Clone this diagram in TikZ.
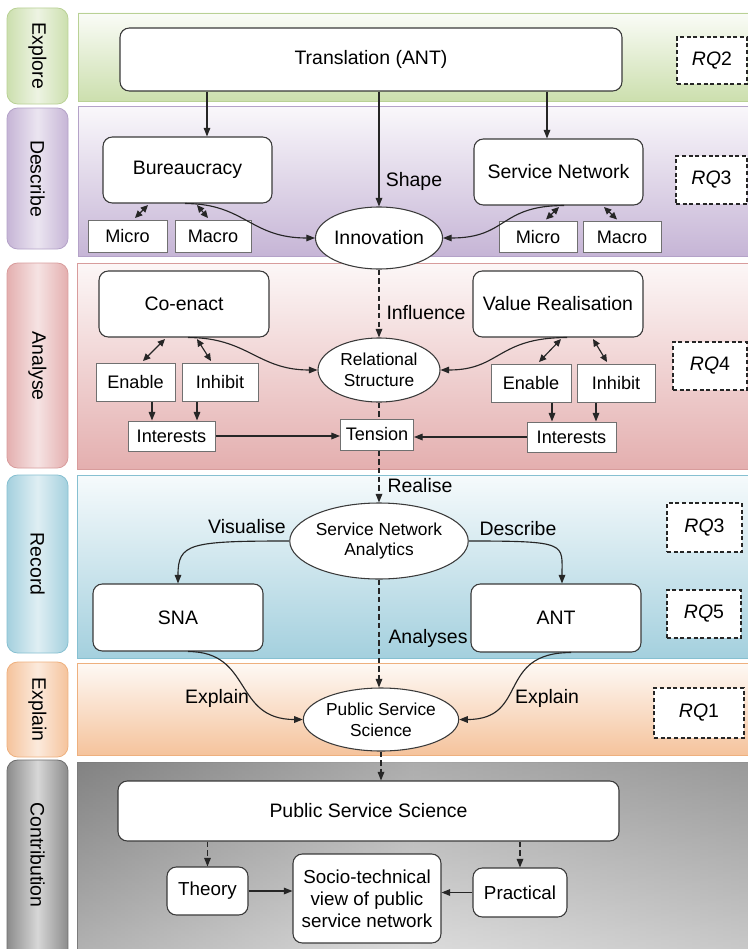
\documentclass[tikz,border=0pt]{standalone}
\usepackage{fontspec}
\setmainfont{Liberation Sans}
\usetikzlibrary{arrows.meta,shapes.geometric,calc}

\definecolor{boxline}{HTML}{3A3A3A}
\definecolor{sboxline}{HTML}{707070}
\definecolor{linec}{HTML}{262626}
\definecolor{exG}{HTML}{CCDFAE}
\definecolor{exGd}{HTML}{B9D195}
\definecolor{deP}{HTML}{C6B5D6}
\definecolor{dePd}{HTML}{B4A2C8}
\definecolor{anR}{HTML}{E4AFAF}
\definecolor{anRd}{HTML}{D89C9C}
\definecolor{reB}{HTML}{A4D0DE}
\definecolor{reBd}{HTML}{86C0D1}
\definecolor{exO}{HTML}{F5C39C}
\definecolor{exOd}{HTML}{EEB07E}
\definecolor{coG}{HTML}{8C8C8C}
\definecolor{coGd}{HTML}{6E6E6E}

\newcommand\fMain{\fontsize{14.6}{17.5}\selectfont}
\newcommand\fSmall{\fontsize{13.6}{16}\selectfont}
\newcommand\fEll{\fontsize{13}{15.6}\selectfont}
\newcommand\fSocio{\fontsize{14.1}{16.5}\selectfont}

\begin{document}
\begin{tikzpicture}[x=0.75pt,y=-0.75pt,
  sz/.style 2 args={minimum width=#1*0.75pt, minimum height=#2*0.75pt},
  rbox/.style={draw=boxline, fill=white, rounded corners=7pt, line width=0.8pt, inner sep=0pt, align=center, font=\fMain},
  sbox/.style={draw=sboxline, fill=white, line width=0.75pt, inner sep=0pt, font=\fSmall},
  ell/.style={ellipse, draw=boxline, fill=white, line width=0.8pt, inner sep=0pt, align=center, font=\fEll},
  rqbox/.style={draw=black!85, dash pattern=on 3pt off 2pt, fill=white, line width=0.8pt, inner sep=0pt, font=\fMain},
  lbl/.style={inner sep=1pt, font=\fMain},
  lanelbl/.style={rotate=-90, font=\fMain},
  conn/.style={draw=linec, line width=0.85pt},
  arr/.style={conn, -{Triangle[length=6.5pt,width=5pt]}},
  darr/.style={conn, {Triangle[length=5.5pt,width=5pt]}-{Triangle[length=5.5pt,width=5pt]}},
  dasharr/.style={arr, dash pattern=on 4pt off 2.5pt},
  dline/.style={conn, dash pattern=on 4pt off 2.5pt},
  lanebg/.style 2 args={top color=#1!10!white, bottom color=#1, draw=#2, line width=0.6pt},
  tabbg/.style 2 args={left color=#1, right color=#1, middle color=#1!35!white, draw=#2, line width=0.6pt, rounded corners=8pt},
]
\useasboundingbox (0,0) rectangle (748,949);
\fill[white] (0,0) rectangle (748,949);

% ---- swim lanes ----
\shade[lanebg={exG}{exGd}] (78,13) rectangle (748,101);
\shade[tabbg={exG}{exGd}] (7,8) rectangle (68,104);
\shade[lanebg={deP}{dePd}] (78,106) rectangle (748,256);
\shade[tabbg={deP}{dePd}] (7,108) rectangle (68,249);
\shade[lanebg={anR}{anRd}] (77,263) rectangle (748,469);
\shade[tabbg={anR}{anRd}] (7,263) rectangle (68,468);
\shade[lanebg={reB}{reBd}] (77,475) rectangle (748,658);
\shade[tabbg={reB}{reBd}] (7,475) rectangle (68,653);
\shade[lanebg={exO}{exOd}] (77,663) rectangle (748,755);
\shade[tabbg={exO}{exOd}] (7,662) rectangle (68,757);
\shade[top color=black!52, bottom color=black!18, draw=coGd, line width=0.6pt] (77,762) rectangle (750,952);
\shade[left color=black!45, right color=black!25, middle color=black!8, opacity=0.45] (77,762) rectangle (748,949);
\shade[tabbg={coG}{coGd}] (7,760) rectangle (68,960);

\node[lanelbl] (tExplore) at (37.5,56) {Explore};
\node[lanelbl] (tDescribe) at (37.5,178.5) {Describe};
\node[lanelbl] (tAnalyse) at (37.5,366) {Analyse};
\node[lanelbl] (tRecord) at (37.5,564) {Record};
\node[lanelbl] (tExplain) at (37.5,709.5) {Explain};
\node[lanelbl] (tContrib) at (37.5,855) {Contribution};

% ---- Explore ----
\node[rbox, sz={502}{63}] (trans) at (371,59.5) {Translation (ANT)};
\node[rqbox, sz={70}{47}] (rq2) at (712,60.5) {\textit{RQ}2};

% ---- Describe ----
\node[rbox, sz={169}{66}] (bur) at (187.5,170) {Bureaucracy};
\node[rbox, sz={169}{66}] (sn) at (558.5,172) {Service Network};
\node[rqbox, sz={71}{48}] (rq3a) at (711.5,180) {\textit{RQ}3};
\node[sbox, sz={79}{32}] (micL) at (127.5,236) {Micro};
\node[sbox, sz={76}{32}] (macL) at (213,236) {Macro};
\node[sbox, sz={78}{31}] (micR) at (538,237) {Micro};
\node[sbox, sz={78}{31}] (macR) at (622,237) {Macro};
\node[ell, sz={122}{62}, font=\fMain] (inno) at (379,238) {Innovation};
\node[lbl] (lShape) at (414,181) {Shape};

% ---- Analyse ----
\node[rbox, sz={170}{66}] (coen) at (184,304) {Co-enact};
\node[rbox, sz={170}{66}] (vr) at (558,304) {Value Realisation};
\node[rqbox, sz={74}{48}] (rq4) at (710,366) {\textit{RQ}4};
\node[sbox, sz={79}{38}] (enL) at (135.5,382) {Enable};
\node[sbox, sz={76}{38}] (inL) at (220,382) {Inhibit};
\node[sbox, sz={87}{30}] (intL) at (171.5,436) {Interests};
\node[sbox, sz={80}{38}] (enR) at (531,383) {Enable};
\node[sbox, sz={78}{38}] (inR) at (616,383) {Inhibit};
\node[sbox, sz={89}{30}] (intR) at (571.5,437) {Interests};
\node[ell, sz={122}{64}] (rel) at (379,370) {Relational\\Structure};
\node[sbox, sz={73}{31}] (ten) at (377,434.5) {Tension};
\node[lbl] (lInfl) at (426,313) {Influence};

% ---- Record ----
\node[ell, sz={147}{76}] (sna) at (379,541) {Service Network\\Analytics};
\node[lbl] (lReal) at (420,486) {Realise};
\node[lbl] (lVis) at (247,527) {Visualise};
\node[lbl] (lDesc) at (518,529) {Describe};
\node[rqbox, sz={75}{49}] (rq3b) at (704.5,527.5) {\textit{RQ}3};
\node[rbox, sz={170}{67}] (snab) at (178,617.5) {SNA};
\node[rbox, sz={170}{68}] (antb) at (556,618) {ANT};
\node[rqbox, sz={74}{48}] (rq5) at (704,614) {\textit{RQ}5};
\node[lbl] (lAna) at (428,638) {Analyses};

% ---- Explain ----
\node[ell, sz={129}{63}] (psse) at (381,719.5) {Public Service\\Science};
\node[lbl] (lExL) at (217,698) {Explain};
\node[lbl] (lExR) at (547,698) {Explain};
\node[rqbox, sz={90}{50}] (rq1) at (699,713) {\textit{RQ}1};

% ---- Contribution ----
\node[rbox, sz={501}{60}] (pssb) at (368.5,811) {Public Service Science};
\node[rbox, sz={81}{48}, font=\fSocio] (theory) at (207.5,891) {Theory};
\node[rbox, sz={148}{89}, font=\fSocio] (socio) at (367,898.5) {Socio-technical\\view of public\\service network};
\node[rbox, sz={94}{49}, font=\fSocio] (prac) at (520,892.5) {Practical};

% ---- connectors: Explore to Describe ----
\coordinate (c1) at ($(bur.north)+(19.5,0)$);
\draw[arr] (trans.south -| c1) -- (c1);
\coordinate (c2) at ($(sn.north)+(-11.5,0)$);
\draw[arr] (trans.south -| c2) -- (c2);
\draw[arr] (trans.south -| inno.north) -- (inno.north);

% ---- Describe ----
\draw[darr] ($(bur.south)+(-39.5,1.5)$) -- ($(micL.north)+(7.5,-1.5)$);
\draw[darr] ($(bur.south)+(9.5,1.5)$) -- ($(macL.north)+(-5,-1.5)$);
\draw[darr] ($(sn.south)+(0.5,1.5)$) -- ($(micR.north)+(8,-1.5)$);
\draw[darr] ($(sn.south)+(45.5,1.5)$) -- ($(macR.north)+(-5,-1.5)$);
\draw[arr] ($(bur.south)+(-2.5,0)$) .. controls +(60,0) and +(-65,0) .. (inno.west);
\draw[arr] ($(sn.south)+(5.5,0)$) .. controls +(-65,0) and +(65,0) .. (inno.east);

% ---- Analyse ----
\draw[dasharr] (inno.south) -- (rel.north);
\draw[darr] ($(coen.south)+(-19,1.5)$) -- ($(enL.north)+(7.5,-1.5)$);
\draw[darr] ($(coen.south)+(13,1.5)$) -- ($(inL.north)+(-9,-1.5)$);
\draw[darr] ($(vr.south)+(3,1.5)$) -- ($(enR.north)+(8,-1.5)$);
\draw[darr] ($(vr.south)+(35,1.5)$) -- ($(inR.north)+(-9,-1.5)$);
\coordinate (c3) at ($(intL.north)+(-19.5,0)$);
\draw[arr] (enL.south -| c3) -- (c3);
\coordinate (c4) at ($(intL.north)+(25.5,0)$);
\draw[arr] (inL.south -| c4) -- (c4);
\coordinate (c5) at ($(intR.north)+(-19.5,0)$);
\draw[arr] (enR.south -| c5) -- (c5);
\coordinate (c6) at ($(intR.north)+(24.5,0)$);
\draw[arr] (inR.south -| c6) -- (c6);
\draw[arr] (intL.east) -- (intL.east -| ten.west);
\draw[arr] (intR.west) -- (intR.west -| ten.east);
\draw[arr] ($(coen.south)+(4,0)$) .. controls +(60,0) and +(-60,0) .. (rel.west);
\draw[arr] ($(vr.south)+(9,0)$) .. controls +(-70,0) and +(60,0) .. (rel.east);
\draw[dline] (rel.south) -- (rel.south |- ten.north);

% ---- Record ----
\draw[dasharr] (ten.south -| sna.north) -- (sna.north);
\draw[arr] (sna.west) .. controls +(-100,0) and +(0,-40) .. (snab.north);
\draw[arr] (sna.east) .. controls +(100,0) and +(0,-40) .. ($(antb.north)+(6,0)$);
\draw[dasharr] (sna.south) -- (sna.south |- psse.north);

% ---- Explain ----
\draw[arr] ($(snab.south)+(10,0)$) .. controls +(65,0) and +(-70,0) .. (psse.west);
\draw[arr] ($(antb.south)+(15,0)$) .. controls +(-75,0) and +(70,0) .. (psse.east);

% ---- Contribution ----
\draw[dasharr] (psse.south) -- (psse.south |- pssb.north);
\draw[dasharr] (pssb.south -| theory.north) -- (theory.north);
\draw[dasharr] (pssb.south -| prac.north) -- (prac.north);
\draw[arr] (theory.east) -- (theory.east -| socio.west);
\draw[arr] (prac.west) -- (prac.west -| socio.east);
\end{tikzpicture}
\end{document}
